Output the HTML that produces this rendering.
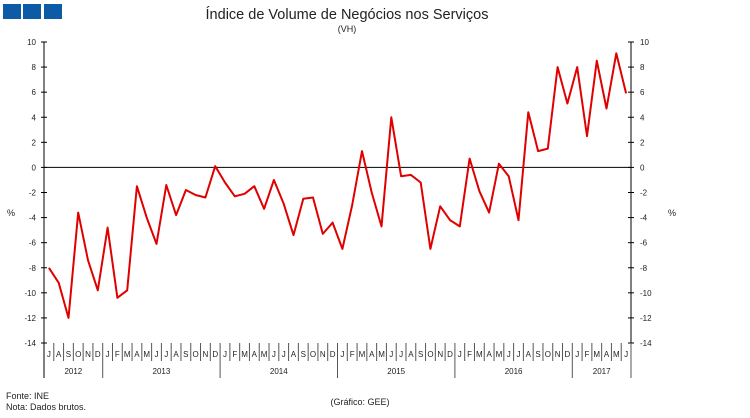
<!DOCTYPE html>
<html><head><meta charset="utf-8"><style>
html,body{margin:0;padding:0;background:#fff}
svg{display:block;font-family:"Liberation Sans",sans-serif}
</style></head><body>
<svg id="c" width="750" height="418" viewBox="0 0 750 418" xmlns="http://www.w3.org/2000/svg">
<rect x="3" y="4" width="18" height="15" fill="#0d5aa7"/>
<rect x="23" y="4" width="18" height="15" fill="#0d5aa7"/>
<rect x="44" y="4" width="18" height="15" fill="#0d5aa7"/>
<text x="347" y="19" font-size="14.5" text-anchor="middle" fill="#222">Índice de Volume de Negócios nos Serviços</text>
<text x="347" y="32" font-size="9" text-anchor="middle" fill="#222">(VH)</text>
<text x="7" y="216" font-size="9" fill="#222">%</text>
<text x="668" y="216" font-size="9" fill="#222">%</text>
<text x="6" y="399" font-size="9" fill="#222">Fonte: INE</text>
<text x="6" y="410" font-size="9" fill="#222">Nota: Dados brutos.</text>
<text x="360" y="405" font-size="9" text-anchor="middle" fill="#222">(Gráfico: GEE)</text>
<g id="g"></g>
</svg>
<script>
var g=document.getElementById('g'),s='';
var L=44,R=631,T=42,B=343,py=(B-T)/24;
function Y(v){return T+(10-v)*py;}
s+='<line x1="'+L+'" y1="'+T+'" x2="'+L+'" y2="'+B+'" stroke="#000"/>';
s+='<line x1="'+R+'" y1="'+T+'" x2="'+R+'" y2="'+B+'" stroke="#000"/>';
s+='<line x1="'+L+'" y1="'+Y(0)+'" x2="'+R+'" y2="'+Y(0)+'" stroke="#000"/>';
for(var v=10;v>=-14;v-=2){var y=Y(v);
s+='<line x1="'+(L-3)+'" y1="'+y+'" x2="'+(L+3)+'" y2="'+y+'" stroke="#000"/>';
s+='<line x1="'+(R-3)+'" y1="'+y+'" x2="'+(R+3)+'" y2="'+y+'" stroke="#000"/>';
s+='<text x="'+(L-8)+'" y="'+(y+3)+'" font-size="8" text-anchor="end" fill="#222">'+v+'</text>';
s+='<text x="'+(R+9)+'" y="'+(y+3)+'" font-size="8" fill="#222">'+v+'</text>';}
var m="JFMAMJJASOND",w=(R-L)/60;
for(var i=0;i<60;i++){var mi=(i+6)%12,x=L+w*(i+0.5);
s+='<text x="'+x+'" y="357" font-size="8" text-anchor="middle" fill="#222">'+m[mi]+'</text>';
if(i>0){var xe=L+w*i;s+='<line x1="'+xe+'" y1="'+B+'" x2="'+xe+'" y2="'+(mi==0?378:361)+'" stroke="#555"/>';}}
var yrs=[[0,6,2012],[6,18,2013],[18,30,2014],[30,42,2015],[42,54,2016],[54,60,2017]];
yrs.forEach(function(a){s+='<text x="'+(L+w*(a[0]+a[1])/2)+'" y="374" font-size="8" text-anchor="middle" fill="#222">'+a[2]+'</text>';});
s+='<line x1="'+L+'" y1="'+B+'" x2="'+L+'" y2="378" stroke="#000"/><line x1="'+R+'" y1="'+B+'" x2="'+R+'" y2="378" stroke="#555"/>';
var d=[-8,-9.2,-12,-3.6,-7.4,-9.8,-4.8,-10.4,-9.8,-1.5,-4,-6.1,-1.4,-3.8,-1.8,-2.2,-2.4,0.1,-1.2,-2.3,-2.1,-1.5,-3.3,-1,-2.9,-5.4,-2.5,-2.4,-5.3,-4.4,-6.5,-3,1.3,-2,-4.7,4,-0.7,-0.6,-1.2,-6.5,-3.1,-4.2,-4.7,0.7,-1.9,-3.6,0.3,-0.7,-4.2,4.4,1.3,1.5,8,5.1,8,2.5,8.5,4.7,9.1,5.9];
var p=d.map(function(v,i){return (L+w*(i+0.5)).toFixed(1)+','+Y(v).toFixed(1);}).join(' ');
s+='<polyline points="'+p+'" fill="none" stroke="#e00000" stroke-width="2" stroke-linejoin="round"/>';
g.innerHTML=s;
</script>
</body></html>
